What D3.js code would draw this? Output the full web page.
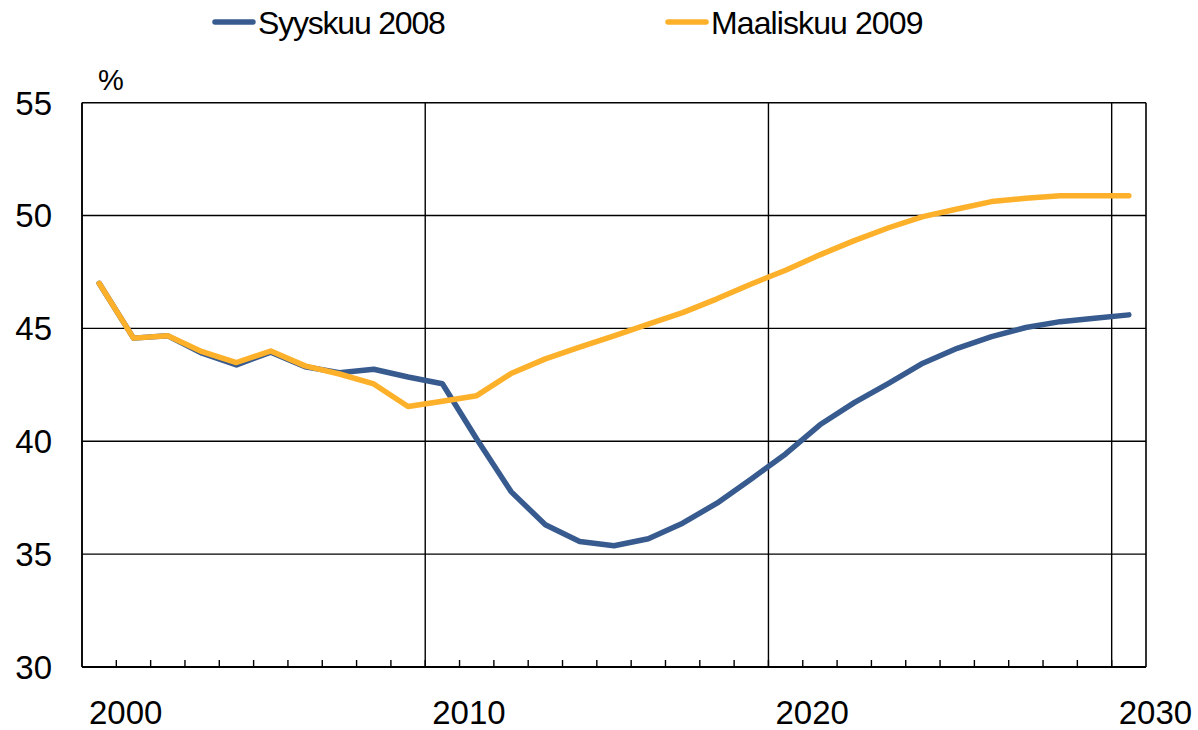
<!DOCTYPE html>
<html>
<head>
<meta charset="utf-8">
<script src="https://cdn.jsdelivr.net/npm/d3@7"></script>
<style>
  body { margin: 0; background: #fff; }
  text { font-family: "Liberation Sans", Arial, sans-serif; fill: #000; }
</style>
</head>
<body>
<div id="chart"></div>
<script>
// years on the category axis, one band per year
const years = d3.range(2000, 2031);

// series values (%)
const syyskuu2008 = [47.0, 44.57, 44.67, 43.9, 43.38, 43.95, 43.3, 43.04, 43.19, 42.85,
  42.55, 40.1, 37.77, 36.3, 35.56, 35.37, 35.68, 36.37, 37.26, 38.33,
  39.44, 40.73, 41.71, 42.57, 43.46, 44.12, 44.64, 45.04, 45.3, 45.45, 45.6];
const maaliskuu2009 = [47.0, 44.57, 44.67, 43.97, 43.49, 44.0, 43.34, 42.98, 42.54, 41.54,
  41.77, 42.02, 43.0, 43.65, 44.17, 44.67, 45.19, 45.7, 46.31, 46.97,
  47.58, 48.26, 48.89, 49.46, 49.95, 50.29, 50.62, 50.77, 50.88, 50.88, 50.88];

const seriesNames = ["Syyskuu 2008", "Maaliskuu 2009"];
const seriesColors = ["#385b8f", "#fdb02a"];
const yTicks = [30, 35, 40, 45, 50, 55];
const xLabels = [2000, 2010, 2020, 2030];

const W = 1198, H = 730;
const margin = { top: 102.7, right: 52, bottom: 63, left: 82 };
const width = W - margin.left - margin.right;
const height = H - margin.top - margin.bottom;

const svg = d3.select("#chart").append("svg")
  .attr("width", W).attr("height", H);

const g = svg.append("g")
  .attr("transform", "translate(" + margin.left + "," + margin.top + ")");

const x = d3.scaleBand().domain(years).range([0, width]);
const y = d3.scaleLinear().domain([30, 55]).range([height, 0]);

// horizontal gridlines
g.append("g").selectAll("line")
  .data(yTicks)
  .enter().append("line")
  .attr("x1", 0).attr("x2", width)
  .attr("y1", d => y(d)).attr("y2", d => y(d))
  .attr("stroke", "#000").attr("stroke-width", 1.4);

// vertical gridlines at start of each decade
g.append("g").selectAll("line")
  .data(xLabels)
  .enter().append("line")
  .attr("x1", d => x(d)).attr("x2", d => x(d))
  .attr("y1", 0).attr("y2", height)
  .attr("stroke", "#000").attr("stroke-width", 1.4);

// frame: left and right sides
g.append("line").attr("x1", 0).attr("x2", 0).attr("y1", 0).attr("y2", height)
  .attr("stroke", "#000").attr("stroke-width", 1.6);
g.append("line").attr("x1", width).attr("x2", width).attr("y1", 0).attr("y2", height)
  .attr("stroke", "#000").attr("stroke-width", 1.6);

// bottom axis with small inside ticks on every band boundary
g.append("g").selectAll("line")
  .data(years.slice(1))
  .enter().append("line")
  .attr("x1", d => x(d)).attr("x2", d => x(d))
  .attr("y1", height).attr("y2", height - 7)
  .attr("stroke", "#000").attr("stroke-width", 1.4);
g.append("line").attr("x1", 0).attr("x2", width).attr("y1", height).attr("y2", height)
  .attr("stroke", "#000").attr("stroke-width", 2.2);

// y labels
g.append("g").selectAll("text")
  .data(yTicks)
  .enter().append("text")
  .attr("x", -30).attr("y", d => y(d))
  .attr("dy", "0.36em")
  .attr("text-anchor", "end")
  .attr("font-size", "33px")
  .text(d => d);

// x labels, left aligned just after the decade line
g.append("g").selectAll("text")
  .data(xLabels)
  .enter().append("text")
  .attr("x", d => x(d) + 7)
  .attr("y", height + 57)
  .attr("font-size", "33px")
  .text(d => d);

// unit label
g.append("text")
  .attr("x", 29).attr("y", -13)
  .attr("text-anchor", "middle")
  .attr("font-size", "29px")
  .text("%");

// lines
const line = d3.line()
  .x((d, i) => x(years[i]) + x.bandwidth() / 2)
  .y(d => y(d));

[syyskuu2008, maaliskuu2009].forEach((s, k) => {
  g.append("path")
    .datum(s)
    .attr("fill", "none")
    .attr("stroke", seriesColors[k])
    .attr("stroke-width", 5.5)
    .attr("stroke-linejoin", "round")
    .attr("stroke-linecap", "round")
    .attr("d", line);
});

// legend
const legendX = [215, 668];
const legend = svg.append("g");
seriesNames.forEach((name, k) => {
  legend.append("line")
    .attr("x1", legendX[k]).attr("x2", legendX[k] + 38)
    .attr("y1", 22).attr("y2", 22)
    .attr("stroke", seriesColors[k])
    .attr("stroke-width", 5.5)
    .attr("stroke-linecap", "round");
  legend.append("text")
    .attr("x", legendX[k] + 43).attr("y", 34)
    .attr("font-size", "32px")
    .attr("letter-spacing", k === 0 ? "-1.2px" : "-0.9px")
    .text(name);
});
</script>
</body>
</html>
